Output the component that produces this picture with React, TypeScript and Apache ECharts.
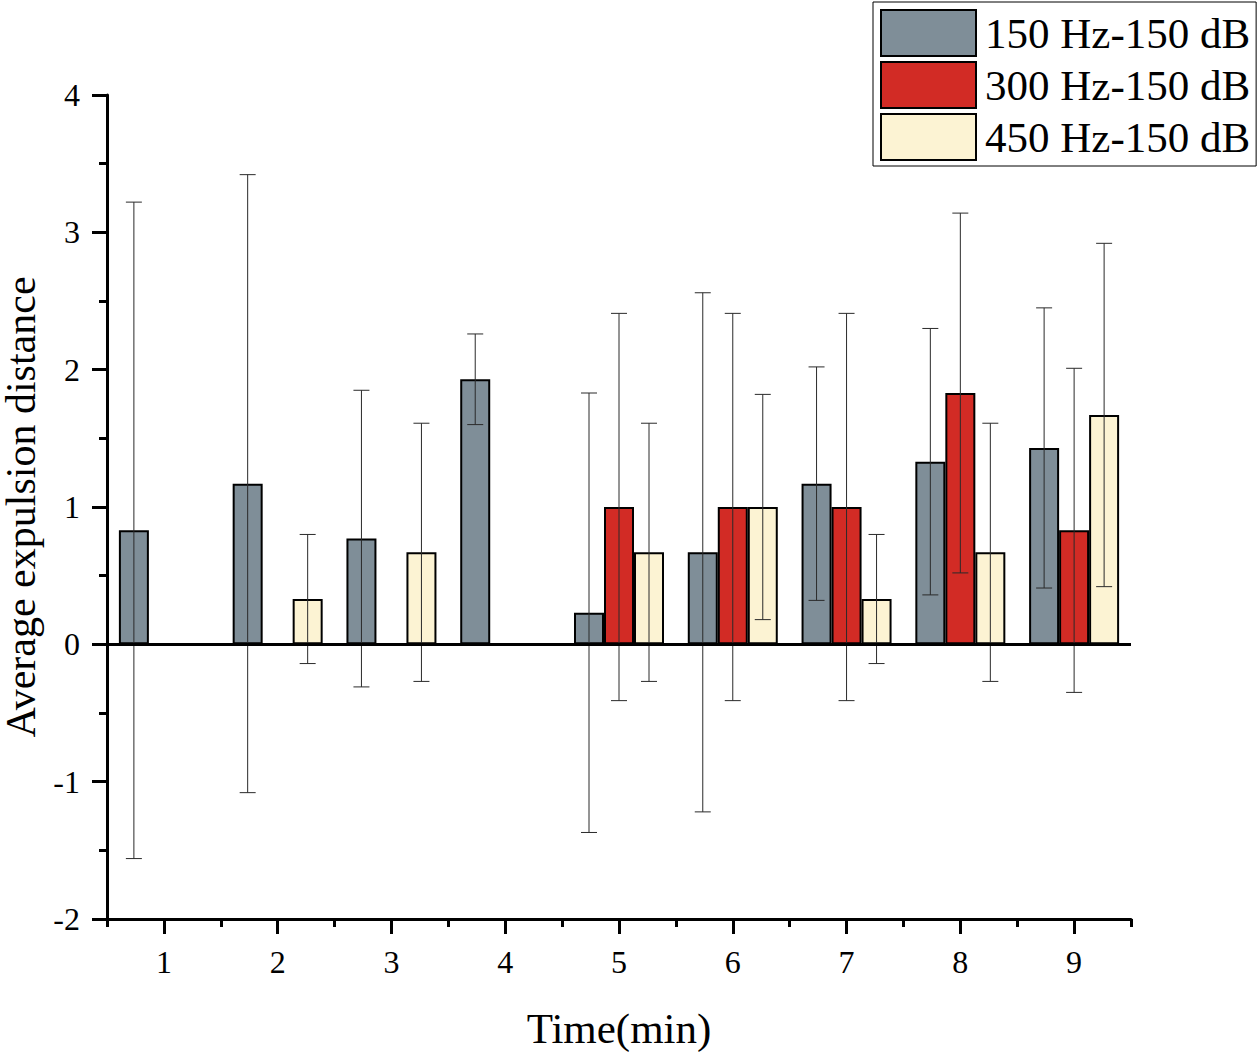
import React, { useEffect, useRef } from "react";
import * as echarts from "echarts";

const categories = ["1", "2", "3", "4", "5", "6", "7", "8", "9"];
const seriesNames = ["150 Hz-150 dB", "300 Hz-150 dB", "450 Hz-150 dB"];
const mean150 = [0.83, 1.17, 0.77, 1.93, 0.23, 0.67, 1.17, 1.33, 1.43];
const sd150 = [2.39, 2.25, 1.08, 0.33, 1.6, 1.89, 0.85, 0.97, 1.02];
const mean300 = [0, 0, 0, 0, 1.0, 1.0, 1.0, 1.83, 0.83];
const sd300 = [null, null, null, null, 1.41, 1.41, 1.41, 1.31, 1.18];
const mean450 = [0, 0.33, 0.67, 0, 0.67, 1.0, 0.33, 0.67, 1.67];
const sd450 = [null, 0.47, 0.94, null, 0.94, 0.82, 0.47, 0.94, 1.25];
const yMin = -2;
const yMax = 4;
const yInterval = 1;

const means = [mean150, mean300, mean450];
const sds = [sd150, sd300, sd450];
const colors = ["#7f8e98", "#d22b25", "#fcf3d3"];
const FONT = "'Liberation Serif', 'Times New Roman', serif";
const BAR_W = 30;

export default function App() {
  const ref = useRef<HTMLDivElement>(null);
  useEffect(() => {
    if (!ref.current) return;
    const chart = echarts.init(ref.current, null, { renderer: "svg" });
    const gridRect = {
      left: 107,
      right: 129,
      top: 95,
      bottom: 135,
      containLabel: false,
      outerBoundsMode: "none",
    };

    const barSeries: any[] = means.map((m, k) => ({
      type: "bar",
      name: seriesNames[k],
      xAxisIndex: 0,
      yAxisIndex: 0,
      data: m,
      barWidth: BAR_W,
      barGap: "0%",
      itemStyle: { color: colors[k], borderColor: "#000", borderWidth: 2 },
      z: 2,
      ...(k === 0
        ? {
            markLine: {
              silent: true,
              symbol: ["none", "none"],
              label: { show: false },
              lineStyle: { color: "#000", width: 3, type: "solid" },
              data: [{ yAxis: 0 }],
              z: 5,
            },
          }
        : {}),
    }));

    const errSeries: any[] = means.map((m, k) => {
      const data: any[] = [];
      m.forEach((v, i) => {
        const s = sds[k][i];
        if (s !== null && s !== undefined) data.push([i, v - s, v + s]);
      });
      const offset = (k - 1) * BAR_W;
      return {
        type: "custom",
        name: "err" + k,
        xAxisIndex: 0,
        yAxisIndex: 0,
        z: 4,
        encode: { x: 0, y: [1, 2] },
        data,
        renderItem: (params: any, api: any) => {
          const ci = api.value(0);
          const lo = api.value(1);
          const hi = api.value(2);
          const pHi = api.coord([ci, hi]);
          const pLo = api.coord([ci, lo]);
          const x = pHi[0] + offset;
          const half = 8;
          const st = { stroke: "#2a2a2a", lineWidth: 1 };
          return {
            type: "group",
            children: [
              { type: "line", shape: { x1: x, y1: pHi[1], x2: x, y2: pLo[1] }, style: st },
              { type: "line", shape: { x1: x - half, y1: pHi[1], x2: x + half, y2: pHi[1] }, style: st },
              { type: "line", shape: { x1: x - half, y1: pLo[1], x2: x + half, y2: pLo[1] }, style: st },
            ],
          };
        },
      };
    });

    const option: any = {
      animation: false,
      backgroundColor: "#fff",
      grid: [{ ...gridRect }, { ...gridRect }],
      legend: {
        data: seriesNames,
        orient: "vertical",
        left: 873,
        top: 2,
        itemWidth: 95,
        itemHeight: 46,
        itemGap: 4,
        padding: [7, 6, 5, 7],
        borderColor: "#000",
        borderWidth: 1,
        icon: "rect",
        selectedMode: false,
        itemStyle: { borderColor: "#000", borderWidth: 2 },
        textStyle: {
          fontFamily: FONT,
          fontSize: 43,
          lineHeight: 46,
          color: "#000",
          padding: [0, 0, 0, 4],
        },
      },
      xAxis: [
        {
          type: "category",
          gridIndex: 0,
          data: categories,
          boundaryGap: true,
          axisLine: { show: true, onZero: false, lineStyle: { color: "#000", width: 3 } },
          axisTick: {
            show: true,
            interval: 0,
            alignWithLabel: false,
            length: 8,
            lineStyle: { color: "#000", width: 3 },
          },
          axisLabel: { show: false },
          splitLine: { show: false },
        },
        {
          type: "category",
          gridIndex: 1,
          data: categories,
          boundaryGap: true,
          axisLine: { show: false, onZero: false },
          axisTick: {
            show: true,
            interval: 0,
            alignWithLabel: true,
            length: 15,
            lineStyle: { color: "#000", width: 3 },
          },
          axisLabel: { show: true, interval: 0, margin: 27, fontFamily: FONT, fontSize: 32, color: "#000" },
          splitLine: { show: false },
          name: "Time(min)",
          nameLocation: "middle",
          nameGap: 88,
          nameTextStyle: { fontFamily: FONT, fontSize: 43, color: "#000" },
        },
      ],
      yAxis: [
        {
          type: "value",
          gridIndex: 0,
          min: yMin,
          max: yMax,
          interval: yInterval,
          axisLine: { show: true, lineStyle: { color: "#000", width: 3 } },
          axisTick: { show: true, length: 15, lineStyle: { color: "#000", width: 3 } },
          minorTick: { show: true, splitNumber: 2, length: 8, lineStyle: { color: "#000", width: 3 } },
          axisLabel: { margin: 27, fontFamily: FONT, fontSize: 32, color: "#000" },
          splitLine: { show: false },
          name: "Average expulsion distance",
          nameLocation: "middle",
          nameRotate: 90,
          nameGap: 66,
          nameTextStyle: { fontFamily: FONT, fontSize: 42, lineHeight: 34, color: "#000" },
        },
        {
          type: "value",
          gridIndex: 1,
          min: yMin,
          max: yMax,
          interval: yInterval,
          show: false,
        },
      ],
      series: [...barSeries, ...errSeries],
    };
    chart.setOption(option);
    return () => chart.dispose();
  }, []);
  return (
    <div
      ref={ref}
      style={{ position: "absolute", left: 0, top: 0, width: 1260, height: 1054, background: "#fff" }}
    />
  );
}
